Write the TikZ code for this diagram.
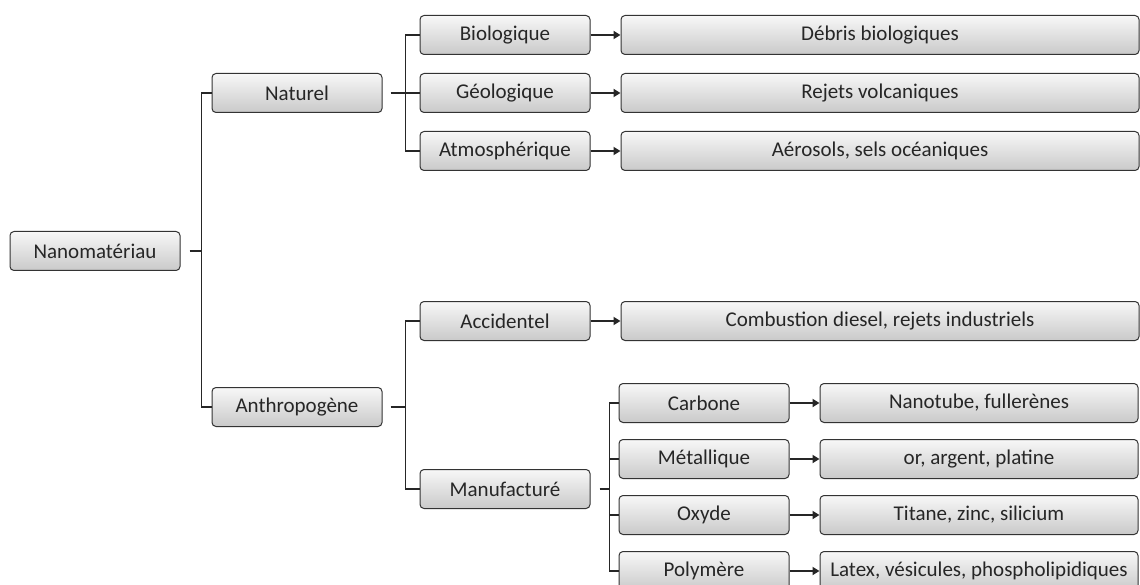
\documentclass[tikz,border=0pt]{standalone}
\usepackage{fontspec}
\setmainfont{Carlito}
\usepackage{tikz}
\usetikzlibrary{arrows.meta, positioning, calc}

\begin{document}
\begin{tikzpicture}[
    x=1pt, y=-1pt,
    node distance=30pt,
    box/.style={draw=black!80, line width=1pt, rounded corners=4pt, top color=gray!6, bottom color=gray!42,
        minimum width=170pt, minimum height=39pt, inner sep=0pt, align=center, text=black!85,
        font=\fontsize{21}{24}\selectfont},
    widebox/.style={box, minimum width=518pt},
    resbox/.style={box, minimum width=318pt},
    link/.style={line width=1.3pt, black!85},
    arrow/.style={-{Triangle[length=7pt, width=8pt]}, line width=2.4pt, black!85}
]
    \useasboundingbox (0,0) rectangle (1140,585);

    \node[box] (nano) at (95,251) {Nanomatériau};

    \node[box] (nat) at (297,93) {Naturel};
    \node[box] (anth) at (297,407) {Anthropogène};

    \node[box] (bio) at (505,35) {Biologique};
    \node[box] (geo) at (505,93) {Géologique};
    \node[box] (atm) at (505,151) {Atmosphérique};
    \node[box] (acc) at (505,321) {Accidentel};
    \node[box] (manuf) at (505,489) {Manufacturé};

    \node[widebox, right=of bio] (debris) {Débris biologiques};
    \node[widebox, right=of geo] (volc) {Rejets volcaniques};
    \node[widebox, right=of atm] (aero) {Aérosols, sels océaniques};
    \node[widebox, right=of acc] (comb) {Combustion diesel, rejets industriels};

    \node[box] (carb) at (704,403) {Carbone};
    \node[box] (metal) at (704,459) {Métallique};
    \node[box] (oxy) at (704,515) {Oxyde};
    \node[box] (poly) at (704,571) {Polymère};

    \node[resbox, right=of carb] (nanotube) {Nanotube, fullerènes};
    \node[resbox, right=of metal] (orarg) {or, argent, platine};
    \node[resbox, right=of oxy] (titane) {Titane, zinc, silicium};
    \node[resbox, right=of poly] (latex) {Latex, vésicules, phospholipidiques};

    % tree connectors
    \coordinate (j0) at ($(nano.east)+(21,0)$);
    \coordinate (j1) at ($(nat.east)+(23,0)$);
    \coordinate (j2) at ($(anth.east)+(23,0)$);
    \coordinate (j3) at ($(manuf.east)+(19,0)$);
    \draw[link] ([xshift=9]nano.east) -- (j0);
    \draw[link] (nat.west) -| (j0) |- (anth.west);
    \draw[link] ([xshift=8]nat.east) -- (j1);
    \draw[link] (bio.west) -| (j1) |- (atm.west);
    \draw[link] (geo.west) -- (geo.west -| j1);
    \draw[link] ([xshift=8]anth.east) -- (j2);
    \draw[link] (acc.west) -| (j2) |- (manuf.west);
    \draw[link] ([xshift=9]manuf.east) -- (j3);
    \draw[link] (carb.west) -| (j3) |- (poly.west);
    \draw[link] (metal.west) -- (metal.west -| j3);
    \draw[link] (oxy.west) -- (oxy.west -| j3);

    % arrows to examples
    \draw[arrow] (bio) -- (debris);
    \draw[arrow] (geo) -- (volc);
    \draw[arrow] (atm) -- (aero);
    \draw[arrow] (acc) -- (comb);
    \draw[arrow] (carb) -- (nanotube);
    \draw[arrow] (metal) -- (orarg);
    \draw[arrow] (oxy) -- (titane);
    \draw[arrow] (poly) -- (latex);
\end{tikzpicture}
\end{document}
